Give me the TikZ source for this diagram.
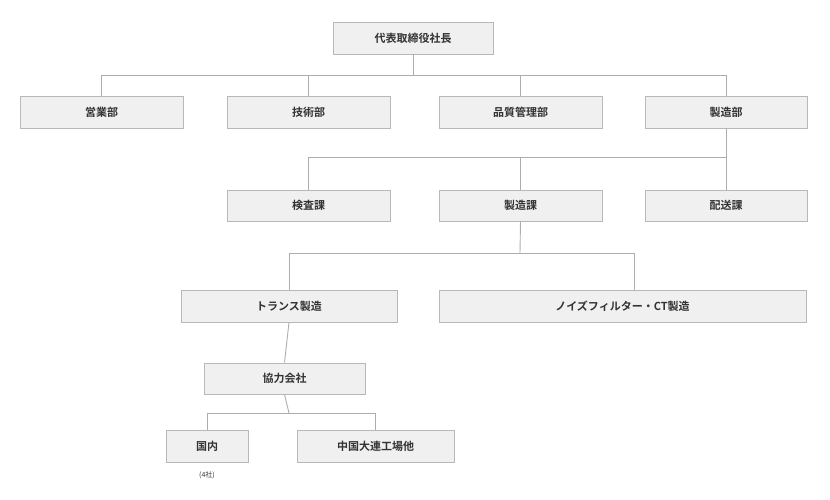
\documentclass[tikz,border=0pt]{standalone}
\usepackage{fontspec}
\setmainfont{Noto Sans CJK JP}[BoldFont={* Bold}]
\begin{document}
\begin{tikzpicture}[x=1pt,y=-1pt,
  bx/.style={draw=black!28,fill=black!6,line width=0.9pt,text=black!80,font=\fontsize{11}{12}\selectfont\bfseries,inner sep=0pt},
  ln/.style={draw=black!32,line width=0.9pt}]
\useasboundingbox (0,0) rectangle (830,500);
\newcommand{\bxx}[6]{\node[bx,minimum width=#4-#3,minimum height=#6-#5] (#1) at ({(#3+#4)/2},{(#5+#6)/2}) {#2};}
\bxx{ceo}{代表取締役社長}{333}{493}{22}{54}
\bxx{eig}{営業部}{20}{183}{96}{128}
\bxx{gij}{技術部}{227}{390}{96}{128}
\bxx{hin}{品質管理部}{439}{602}{96}{128}
\bxx{sei}{製造部}{645}{807}{96}{128}
\bxx{ken}{検査課}{227}{390}{190}{221}
\bxx{sek}{製造課}{439}{602}{190}{221}
\bxx{hai}{配送課}{645}{807}{190}{221}
\bxx{tra}{トランス製造}{181}{397}{290}{322}
\bxx{noi}{ノイズフィルター・CT製造}{439}{806}{290}{322}
\bxx{kyo}{協力会社}{204}{365}{363}{394}
\bxx{kok}{国内}{166}{248}{430}{462}
\bxx{chu}{中国大連工場他}{297}{454}{430}{462}
\node[text=black!80,font=\fontsize{7}{8}\selectfont] (four) at (207,475) {(4社)};
\coordinate (b1) at (413,75);
\draw[ln] (ceo.south) -- (b1);
\draw[ln] (eig.north) -- (eig.north|-b1) -- (sei.north|-b1) -- (sei.north);
\draw[ln] (gij.north) -- (gij.north|-b1);
\draw[ln] (hin.north) -- (hin.north|-b1);
\coordinate (b2) at (726,157);
\draw[ln] (sei.south) -- (hai.north);
\draw[ln] (ken.north) -- (ken.north|-b2) -- (b2);
\draw[ln] (sek.north) -- (sek.north|-b2);
\coordinate (b3) at (520,253);
\draw[ln] (sek.south) -- (b3);
\draw[ln] (tra.north) -- (tra.north|-b3) -- (634,253) -- (634,290);
\draw[ln] (tra.south) -- (kyo.north);
\coordinate (b4) at (289,413);
\draw[ln] (kyo.south) -- (b4);
\draw[ln] (kok.north) -- (kok.north|-b4) -- (chu.north|-b4) -- (chu.north);
\end{tikzpicture}
\end{document}
